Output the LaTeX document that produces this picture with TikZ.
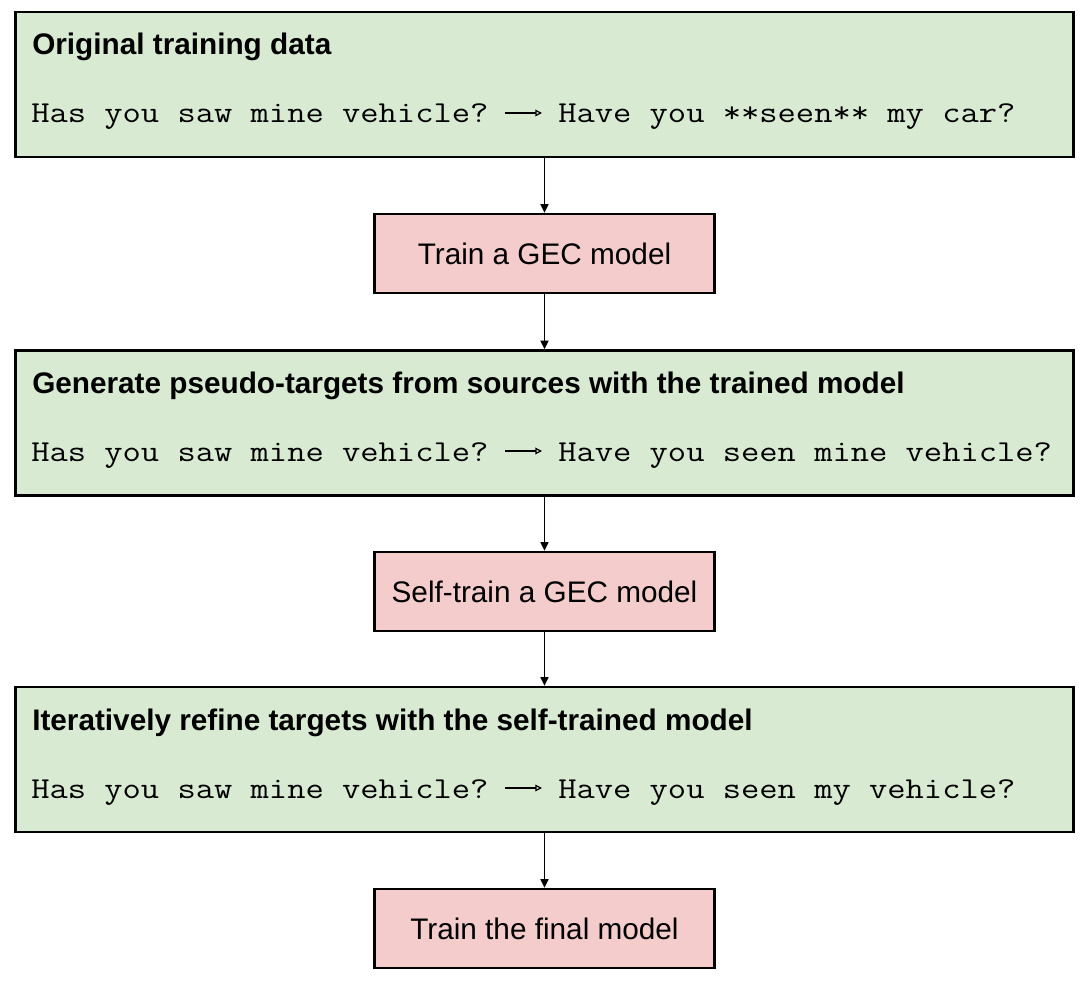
\documentclass[tikz,border=0pt]{standalone}
\usepackage{fontspec}
\setmainfont{Liberation Sans}
\setmonofont[FakeStretch=1.168]{Latin Modern Mono}
\usetikzlibrary{arrows.meta}
\definecolor{boxgreen}{HTML}{D9EAD3}
\definecolor{boxpink}{HTML}{F4CCCC}
\tikzset{
  greenbox/.style={draw=black, line width=1.8pt, fill=boxgreen, rectangle, minimum width=793.5pt, minimum height=108.75pt, inner sep=0pt},
  pinkbox/.style={draw=black, line width=1.8pt, fill=boxpink, rectangle, minimum width=255pt, minimum height=59.25pt, inner sep=0pt, font=\fontsize{22.3pt}{26pt}\selectfont},
  titletext/.style={anchor=base west, inner sep=0pt, font=\fontsize{22.3pt}{26pt}\selectfont\bfseries},
  monotext/.style={anchor=base west, inner sep=0pt, font=\fontsize{22.8pt}{26pt}\selectfont\ttfamily},
  flow/.style={line width=1pt, -{Triangle[length=6.5pt, width=6pt]}},
  textarrow/.style={line width=0.9pt, -{Triangle[open, length=5pt, width=5pt, line width=0.9pt]}},
}
\begin{document}
\begin{tikzpicture}[x=0.75pt, y=-0.75pt]
\useasboundingbox (0,0) rectangle (1089,984);
% boxes
\node[greenbox] (b1) at (544.5,84.5) {};
\node[pinkbox] (p1) at (544.5,253.5) {Train a GEC model};
\node[greenbox] (b2) at (544.5,423) {};
\node[pinkbox] (p2) at (544.5,591.5) {Self-train a GEC model};
\node[greenbox] (b3) at (544.5,759.5) {};
\node[pinkbox] (p3) at (544.5,928.5) {Train the final model};
% texts in box 1
\node[titletext] (h1) at (32,55) {Original training data};
\node[monotext] (s1) at (31,123) {Has you saw mine vehicle?};
\node[monotext] (t1) at (558,123) {Have you **seen** my car?};
\coordinate (a1s) at (505,113);
\coordinate (a1e) at (542,113);
\draw[textarrow] (a1s) -- (a1e);
% texts in box 2
\node[titletext] (h2) at (32,393) {Generate pseudo-targets from sources with the trained model};
\node[monotext] (s2) at (31,461) {Has you saw mine vehicle?};
\node[monotext] (t2) at (558,461) {Have you seen mine vehicle?};
\coordinate (a2s) at (505,451);
\coordinate (a2e) at (542,451);
\draw[textarrow] (a2s) -- (a2e);
% texts in box 3
\node[titletext] (h3) at (32,730) {Iteratively refine targets with the self-trained model};
\node[monotext] (s3) at (31,798) {Has you saw mine vehicle?};
\node[monotext] (t3) at (558,798) {Have you seen my vehicle?};
\coordinate (a3s) at (505,788);
\coordinate (a3e) at (542,788);
\draw[textarrow] (a3s) -- (a3e);
% flow arrows
\draw[flow] (b1.south) -- (p1.north);
\draw[flow] (p1.south) -- (b2.north);
\draw[flow] (b2.south) -- (p2.north);
\draw[flow] (p2.south) -- (b3.north);
\draw[flow] (b3.south) -- (p3.north);
\end{tikzpicture}
\end{document}
